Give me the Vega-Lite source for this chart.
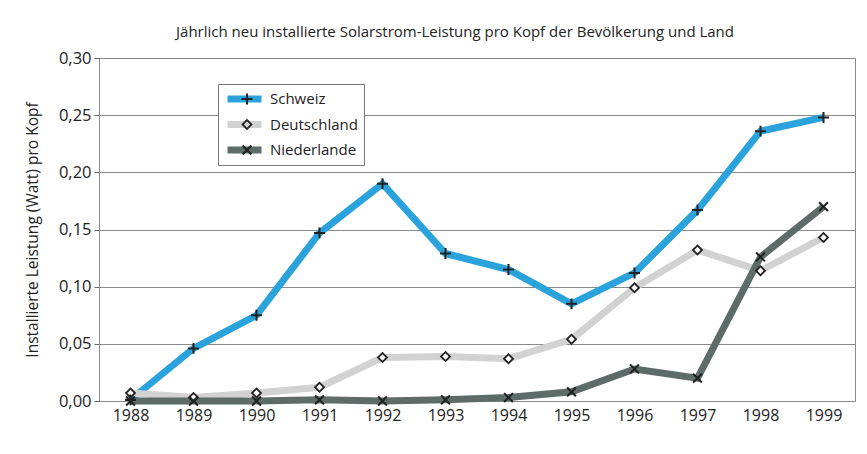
{
  "$schema": "https://vega.github.io/schema/vega-lite/v6.json",
  "width": 756,
  "height": 343,
  "autosize": {"type": "none"},
  "padding": {"left": 99, "top": 58, "right": 12, "bottom": 53},
  "background": "white",
  "title": {
    "text": "Jährlich neu installierte Solarstrom-Leistung pro Kopf der Bevölkerung und Land",
    "font": "Open Sans",
    "fontSize": 15,
    "fontWeight": "normal",
    "color": "#222222",
    "anchor": "middle",
    "dx": -22,
    "offset": 10
  },
  "config": {
    "view": {"stroke": "#8a8a8a", "strokeWidth": 1},
    "font": "Open Sans"
  },
  "data": {
    "values": [
      {"year": "1988", "land": "Schweiz", "value": 0.001},
      {"year": "1989", "land": "Schweiz", "value": 0.046},
      {"year": "1990", "land": "Schweiz", "value": 0.075},
      {"year": "1991", "land": "Schweiz", "value": 0.147},
      {"year": "1992", "land": "Schweiz", "value": 0.190},
      {"year": "1993", "land": "Schweiz", "value": 0.129},
      {"year": "1994", "land": "Schweiz", "value": 0.115},
      {"year": "1995", "land": "Schweiz", "value": 0.085},
      {"year": "1996", "land": "Schweiz", "value": 0.112},
      {"year": "1997", "land": "Schweiz", "value": 0.167},
      {"year": "1998", "land": "Schweiz", "value": 0.236},
      {"year": "1999", "land": "Schweiz", "value": 0.248},
      {"year": "1988", "land": "Deutschland", "value": 0.007},
      {"year": "1989", "land": "Deutschland", "value": 0.003},
      {"year": "1990", "land": "Deutschland", "value": 0.007},
      {"year": "1991", "land": "Deutschland", "value": 0.012},
      {"year": "1992", "land": "Deutschland", "value": 0.038},
      {"year": "1993", "land": "Deutschland", "value": 0.039},
      {"year": "1994", "land": "Deutschland", "value": 0.037},
      {"year": "1995", "land": "Deutschland", "value": 0.054},
      {"year": "1996", "land": "Deutschland", "value": 0.099},
      {"year": "1997", "land": "Deutschland", "value": 0.132},
      {"year": "1998", "land": "Deutschland", "value": 0.114},
      {"year": "1999", "land": "Deutschland", "value": 0.143},
      {"year": "1988", "land": "Niederlande", "value": 0.000},
      {"year": "1989", "land": "Niederlande", "value": 0.000},
      {"year": "1990", "land": "Niederlande", "value": 0.000},
      {"year": "1991", "land": "Niederlande", "value": 0.001},
      {"year": "1992", "land": "Niederlande", "value": 0.000},
      {"year": "1993", "land": "Niederlande", "value": 0.001},
      {"year": "1994", "land": "Niederlande", "value": 0.003},
      {"year": "1995", "land": "Niederlande", "value": 0.008},
      {"year": "1996", "land": "Niederlande", "value": 0.028},
      {"year": "1997", "land": "Niederlande", "value": 0.020},
      {"year": "1998", "land": "Niederlande", "value": 0.126},
      {"year": "1999", "land": "Niederlande", "value": 0.170}
    ]
  },
  "encoding": {
    "x": {
      "field": "year",
      "type": "ordinal",
      "scale": {"type": "point", "padding": 0.5},
      "axis": {
        "title": null,
        "labelAngle": 0,
        "domain": false,
        "ticks": false,
        "grid": false,
        "labelFontSize": 16,
        "labelColor": "#222222",
        "labelPadding": 6,
        "labelFont": "Open Sans"
      }
    },
    "y": {
      "field": "value",
      "type": "quantitative",
      "scale": {"domain": [0, 0.3], "nice": false},
      "axis": {
        "title": "Installierte Leistung (Watt) pro Kopf",
        "titleFontSize": 15.5,
        "titleFontWeight": "normal",
        "titleColor": "#222222",
        "titlePadding": 18,
        "titleFont": "Open Sans",
        "values": [0, 0.05, 0.1, 0.15, 0.2, 0.25, 0.3],
        "labelExpr": "replace(format(datum.value, '.2f'), '.', ',')",
        "labelFontSize": 16.5,
        "labelColor": "#222222",
        "labelFont": "Open Sans",
        "labelPadding": 3,
        "domain": false,
        "tickSize": 5,
        "tickColor": "#666666",
        "gridColor": "#8a8a8a",
        "gridWidth": 1
      }
    }
  },
  "layer": [
    {
      "mark": {"type": "line", "strokeWidth": 7, "strokeJoin": "miter"},
      "encoding": {
        "color": {
          "field": "land",
          "type": "nominal",
          "scale": {
            "domain": ["Schweiz", "Deutschland", "Niederlande"],
            "range": ["#2aa3dc", "#d2d2d2", "#5d6c69"]
          },
          "legend": {
            "title": null,
            "orient": "none",
            "legendX": 119,
            "legendY": 26,
            "zindex": 1,
            "symbolType": "stroke",
            "symbolSize": 1156,
            "symbolStrokeWidth": 7,
            "clipHeight": 18,
            "labelFontSize": 15,
            "labelFont": "Open Sans",
            "labelColor": "#222222",
            "labelOffset": 5,
            "rowPadding": 7.5,
            "padding": 6,
            "fillColor": "white",
            "strokeColor": "#777777"
          }
        }
      }
    },
    {
      "transform": [{"filter": "datum.land === 'Deutschland'"}],
      "mark": {"type": "point", "filled": true, "fill": "white", "strokeWidth": 0, "size": 1156, "opacity": 1, "shape": "M0,-0.2L0.2,0L0,0.2L-0.2,0Z"}
    },
    {
      "mark": {"type": "point", "filled": true, "fill": "#222222", "strokeWidth": 0, "size": 1156, "opacity": 1},
      "encoding": {
        "shape": {
          "field": "land",
          "type": "nominal",
          "sort": ["Schweiz", "Deutschland", "Niederlande"],
          "scale": {
            "range": [
              "M-0.32,-0.06H-0.06V-0.32H0.06V-0.06H0.32V0.06H0.06V0.32H-0.06V0.06H-0.32Z",
              "M0,-0.34L0.34,0L0,0.34L-0.34,0ZM0,-0.19L-0.19,0L0,0.19L0.19,0Z",
              "M-0.218,-0.302L0.302,0.218L0.218,0.302L-0.302,-0.218ZM-0.218,0.302L-0.302,0.218L0.218,-0.302L0.302,-0.218Z"
            ]
          },
          "legend": {
            "title": null,
            "orient": "none",
            "legendX": 125,
            "legendY": 26,
            "zindex": 2,
            "symbolSize": 1156,
            "symbolStrokeWidth": 0,
            "symbolFillColor": "#222222",
            "clipHeight": 18,
            "labelFontSize": 15,
            "labelFont": "Open Sans",
            "labelColor": "transparent",
            "labelOffset": 5,
            "rowPadding": 7.5,
            "padding": 6
          }
        }
      }
    }
  ]
}
